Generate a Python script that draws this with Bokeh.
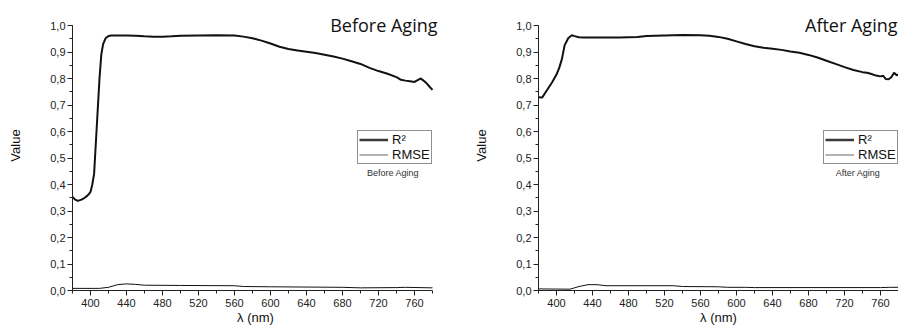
from bokeh.plotting import figure
from bokeh.models import (Legend, LegendItem, Label, SingleIntervalTicker,
                          CustomJSTickFormatter, Range1d, ColumnDataSource)
from bokeh.layouts import row
from bokeh.embed import file_html
from bokeh.resources import INLINE

# ---------------- data ----------------
before_r2_wl = [380, 383, 386, 390, 393, 396, 398.5, 400, 402, 404, 405, 407, 408.5, 410, 412, 414, 417,
                420, 423, 430, 440, 450, 460, 470, 480, 490, 500, 520, 540, 560, 570, 580, 590,
                600, 610, 620, 630, 640, 650, 660, 670, 680, 690, 700, 710, 720, 730, 740, 745,
                750, 755, 760, 764, 767, 770, 774, 777, 780]
before_r2 = [0.353, 0.343, 0.338, 0.343, 0.349, 0.356, 0.365, 0.372, 0.40, 0.44, 0.50, 0.62, 0.71, 0.80,
             0.89, 0.93, 0.953, 0.960, 0.962, 0.962, 0.962, 0.961, 0.959, 0.958, 0.958, 0.959,
             0.961, 0.962, 0.963, 0.962, 0.958, 0.952, 0.943, 0.932, 0.920, 0.911, 0.906, 0.901,
             0.896, 0.890, 0.883, 0.875, 0.865, 0.855, 0.840, 0.828, 0.818, 0.805, 0.795, 0.792,
             0.790, 0.787, 0.795, 0.800, 0.792, 0.780, 0.768, 0.757]

before_rmse_wl = [380, 395, 410, 420, 430, 440, 450, 460, 500, 560, 570, 600, 680, 700, 740, 750, 780]
before_rmse = [0.008, 0.008, 0.008, 0.012, 0.022, 0.025, 0.023, 0.020, 0.019, 0.018, 0.015, 0.014,
               0.012, 0.010, 0.011, 0.012, 0.010]

after_r2_wl = [380, 384, 389, 395, 400, 403, 406, 409, 413, 417, 420, 425, 430, 450, 470, 490, 500,
               520, 540, 560, 570, 580, 590, 600, 610, 620, 630, 640, 650, 660, 670, 680, 690,
               700, 710, 720, 730, 740, 745, 750, 755, 760, 763, 766, 769, 772, 775, 778, 780]
after_r2 = [0.729, 0.728, 0.754, 0.785, 0.815, 0.840, 0.873, 0.925, 0.952, 0.963, 0.960, 0.956,
            0.955, 0.955, 0.955, 0.957, 0.960, 0.962, 0.964, 0.963, 0.961, 0.957, 0.950, 0.940,
            0.930, 0.922, 0.916, 0.912, 0.908, 0.902, 0.897, 0.889, 0.879, 0.867, 0.855, 0.843,
            0.832, 0.824, 0.822, 0.817, 0.811, 0.808, 0.810, 0.798, 0.797, 0.805, 0.822, 0.812, 0.815]

after_rmse_wl = [380, 415, 425, 435, 445, 455, 530, 540, 580, 590, 610, 620, 760, 770, 780]
after_rmse = [0.006, 0.005, 0.015, 0.022, 0.022, 0.018, 0.018, 0.015, 0.014, 0.012, 0.012, 0.011,
              0.011, 0.012, 0.012]

x_label = "λ (nm)"
y_label = "Value"
legend_labels = ["R²", "RMSE"]
x_min, x_max = 380, 780
y_min, y_max = 0.0, 1.0

TICK_FONT = "Liberation Sans"
PX_PER_NM = 0.9
PX_PER_UNIT = 265.0
TOP_PAD = 25          # px of blank frame above y=1.0 (room for the title)


def make_panel(r2_wl, r2, rmse_wl, rmse, title, caption, frame_w, border_right,
               title_offset, caption_x):
    x_end = x_min + frame_w / PX_PER_NM
    y_end = y_max + TOP_PAD / PX_PER_UNIT
    p = figure(frame_width=frame_w, frame_height=int(PX_PER_UNIT + TOP_PAD),
               x_range=Range1d(x_min, x_end), y_range=Range1d(y_min, y_end),
               output_backend="svg", toolbar_location=None,
               min_border_left=72, min_border_right=border_right,
               min_border_top=0, min_border_bottom=36,
               background_fill_color="white", border_fill_color="white")
    p.outline_line_color = None
    p.grid.visible = False

    p.line(x=r2_wl, y=r2, line_color="#111111", line_width=2)
    p.line(x=rmse_wl, y=rmse, line_color="#111111", line_width=1)

    # legend proxies (one point: draws nothing in the plot, styles the legend)
    proxy = ColumnDataSource(data=dict(x=[x_min], y=[y_min]))
    lg_r2 = p.line(x="x", y="y", source=proxy, line_color="#3a3a3a", line_width=2.5)
    lg_rmse = p.line(x="x", y="y", source=proxy, line_color="#9a9a9a", line_width=1.5)

    legend = Legend(items=[LegendItem(label=legend_labels[0], renderers=[lg_r2]),
                           LegendItem(label=legend_labels[1], renderers=[lg_rmse])],
                    location=(285, 126), margin=0, padding=1, spacing=0,
                    glyph_width=29, glyph_height=15, label_height=15, label_standoff=4,
                    label_text_font=TICK_FONT, label_text_font_size="13px",
                    label_text_color="#111111",
                    border_line_color="#222222", border_line_width=1,
                    background_fill_alpha=1.0)
    p.add_layout(legend, "center")

    # axes
    for ax in (p.xaxis[0], p.yaxis[0]):
        ax.axis_line_color = "#222222"
        ax.major_tick_line_color = "#222222"
        ax.minor_tick_line_color = "#222222"
        ax.major_tick_out = 5
        ax.major_tick_in = 0
        ax.minor_tick_out = 3
        ax.minor_tick_in = 0
        ax.major_label_text_font = TICK_FONT
        ax.major_label_text_font_size = "11px"
        ax.major_label_text_color = "#222222"
        ax.axis_label_text_font = TICK_FONT
        ax.axis_label_text_font_size = "13px"
        ax.axis_label_text_font_style = "normal"
        ax.axis_label_text_color = "#111111"

    p.xaxis[0].bounds = (x_min, x_max)
    p.yaxis[0].bounds = (y_min, y_max)
    p.xaxis[0].ticker = SingleIntervalTicker(interval=40, num_minor_ticks=2)
    p.yaxis[0].ticker = SingleIntervalTicker(interval=0.1, num_minor_ticks=2)
    p.yaxis[0].formatter = CustomJSTickFormatter(code="return tick.toFixed(1).replace('.', ',');")
    p.xaxis[0].axis_label = x_label
    p.yaxis[0].axis_label = y_label
    p.xaxis[0].major_label_standoff = 3
    p.xaxis[0].axis_label_standoff = 0
    p.yaxis[0].major_label_standoff = 2
    p.yaxis[0].axis_label_standoff = 24

    p.add_layout(Label(x=x_max, y=y_max, x_offset=title_offset, y_offset=1, text=title,
                       text_align="right", text_baseline="alphabetic",
                       text_font="Open Sans", text_font_size="18px",
                       text_color="#111111"))
    p.add_layout(Label(x=caption_x, y=0.445, text=caption, text_align="center",
                       text_baseline="middle", text_font=TICK_FONT,
                       text_font_size="9px", text_color="#333333"))
    return p


p1 = make_panel(before_r2_wl, before_r2, before_rmse_wl, before_rmse,
                "Before Aging", "Before Aging", 366, 28, 5, 736)
p2 = make_panel(after_r2_wl, after_r2, after_rmse_wl, after_rmse,
                "After Aging", "After Aging", 360, 0, -1, 735)

layout = row(p1, p2)
open("out.html", "w").write(file_html(layout, INLINE))
